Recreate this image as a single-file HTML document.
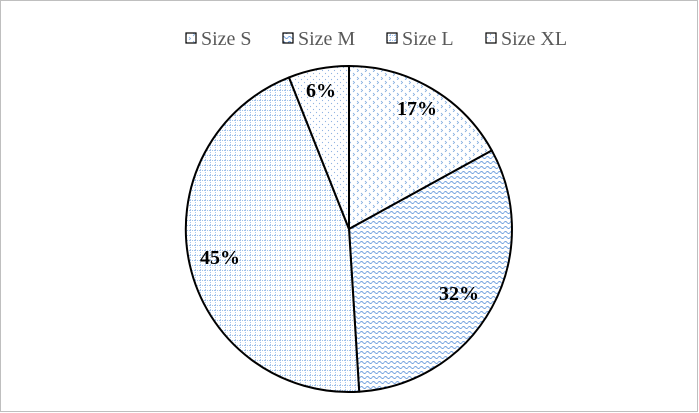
<!DOCTYPE html>
<html><head><style>body{margin:0;background:#fff}svg{display:block}</style></head><body>
<svg width="699" height="413" viewBox="0 0 699 413" xmlns="http://www.w3.org/2000/svg">
<defs>
<pattern id="pS" width="8" height="8" patternUnits="userSpaceOnUse"><rect width="8" height="8" fill="#fff"/><path d="M1 1 l1.5 1.5 l-1.5 1.5 M5 5 l1.5 1.5 l-1.5 1.5" stroke="#7aa7de" stroke-width="0.8" fill="none"/></pattern>
<pattern id="pM" width="6" height="5" patternUnits="userSpaceOnUse"><rect width="6" height="5" fill="#fff"/><path d="M0 2.5 q1.5 -2 3 0 t3 0" stroke="#6d9ede" stroke-width="0.9" fill="none"/></pattern>
<pattern id="pL" width="5" height="5" patternUnits="userSpaceOnUse"><rect width="5" height="5" fill="#fff"/><path d="M0 0.5 H5 M0.5 0 V5" stroke="#9fc0ea" stroke-width="0.9" stroke-dasharray="1 1" fill="none"/></pattern>
<pattern id="pX" width="6" height="6" patternUnits="userSpaceOnUse"><rect width="6" height="6" fill="#fff"/><circle cx="1.5" cy="1.5" r="0.6" fill="#8fb3e3"/><circle cx="4.5" cy="4.5" r="0.6" fill="#8fb3e3"/></pattern>
</defs>
<rect x="0.5" y="0.5" width="697" height="411" fill="#fff" stroke="#bfbfbf"/>
<g stroke-linejoin="round">
<path d="M349 229 L349 66 A163 163 0 0 1 491.8 150.5 Z" fill="url(#pS)" stroke="#000" stroke-width="2"/>
<path d="M349 229 L491.8 150.5 A163 163 0 0 1 359.2 391.7 Z" fill="url(#pM)" stroke="#000" stroke-width="2"/>
<path d="M349 229 L359.2 391.7 A163 163 0 0 1 289 77.4 Z" fill="url(#pL)" stroke="#000" stroke-width="2"/>
<path d="M349 229 L289 77.4 A163 163 0 0 1 349 66 Z" fill="url(#pX)" stroke="#000" stroke-width="2"/>
</g>
<g font-family="Liberation Serif, serif" font-weight="bold" font-size="20" fill="#000">
<text x="397" y="115">17%</text>
<text x="439" y="300">32%</text>
<text x="200" y="264">45%</text>
<text x="306" y="97">6%</text>
</g>
<g font-family="Liberation Serif, serif" font-size="20" fill="#595959">
<rect x="186" y="33" width="10" height="10" fill="url(#pS)" stroke="#000" stroke-width="1.2"/><text x="201" y="45">Size S</text>
<rect x="283" y="33" width="10" height="10" fill="url(#pM)" stroke="#000" stroke-width="1.2"/><text x="298" y="45">Size M</text>
<rect x="387" y="33" width="10" height="10" fill="url(#pL)" stroke="#000" stroke-width="1.2"/><text x="402" y="45">Size L</text>
<rect x="486" y="33" width="10" height="10" fill="url(#pX)" stroke="#000" stroke-width="1.2"/><text x="501" y="45">Size XL</text>
</g>
</svg>
</body></html>
